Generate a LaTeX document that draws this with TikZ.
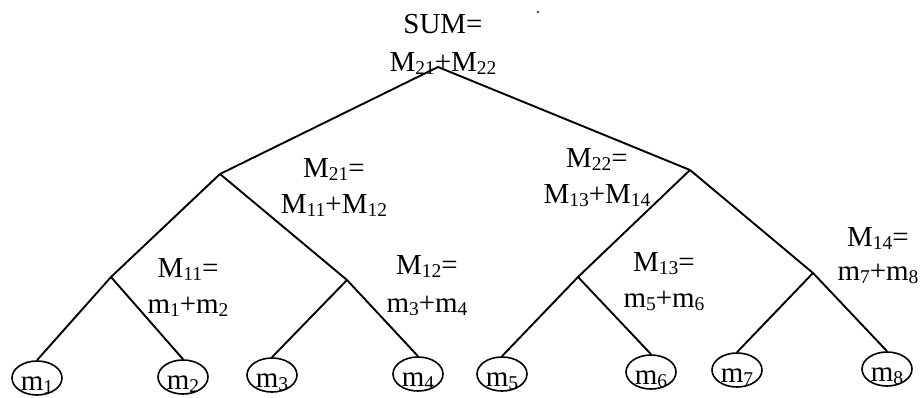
\documentclass[tikz,border=0pt]{standalone}
\usepackage{fontspec}
\setmainfont{Liberation Serif}
\usetikzlibrary{shapes.geometric}
\newcommand\sbs[1]{\raisebox{-3pt}{\fontsize{19.5}{19.5}\selectfont #1}}
\begin{document}
\begin{tikzpicture}[x=1pt,y=-1pt,line width=1.9pt,
  leaf/.style={draw,ellipse,minimum width=50pt,minimum height=34pt,inner sep=0pt,line width=1.6pt,font=\fontsize{29}{36}\selectfont},
  lbl/.style={align=center,font=\fontsize{29}{36}\selectfont,inner sep=0pt,anchor=base}]
\useasboundingbox (0,0) rectangle (924,397);
% junctions
\coordinate (r) at (438,67);
\coordinate (a) at (220,174);
\coordinate (b) at (690,170);
\coordinate (c) at (111,277);
\coordinate (d) at (347,280);
\coordinate (e) at (578,277);
\coordinate (f) at (813,273);
% leaves
\node[leaf] (m1) at (37,378) {\smash{\raisebox{-12pt}{m\sbs{1}}}};
\node[leaf] (m2) at (183,377) {\smash{\raisebox{-12pt}{m\sbs{2}}}};
\node[leaf] (m3) at (272,375) {\smash{\raisebox{-12pt}{m\sbs{3}}}};
\node[leaf] (m4) at (418,374) {\smash{\raisebox{-12pt}{m\sbs{4}}}};
\node[leaf] (m5) at (502,374) {\smash{\raisebox{-12pt}{m\sbs{5}}}};
\node[leaf] (m6) at (651,372) {\smash{\raisebox{-12pt}{m\sbs{6}}}};
\node[leaf] (m7) at (737,370) {\smash{\raisebox{-12pt}{m\sbs{7}}}};
\node[leaf] (m8) at (887,369) {\smash{\raisebox{-12pt}{m\sbs{8}}}};
% edges
\draw (a) -- (r) -- (b);
\draw (a) -- (c) -- (m1.north);
\draw (c) -- (m2.north);
\draw (a) -- (d) -- (m4.north);
\draw (d) -- (m3.north);
\draw (b) -- (e) -- (m5.north);
\draw (e) -- (m6.north);
\draw (b) -- (f) -- (m8.north);
\draw (f) -- (m7.north);
% labels (anchor base = baseline of last line)
\node[lbl] (lsum) at (443,71) {SUM=\\[2pt]M\sbs{21}+M\sbs{22}};
\node[lbl] (l21) at (334,213) {M\sbs{21}=\\M\sbs{11}+M\sbs{12}};
\node[lbl] (l22) at (597,203) {M\sbs{22}=\\M\sbs{13}+M\sbs{14}};
\node[lbl] (l11) at (188,313) {M\sbs{11}=\\m\sbs{1}+m\sbs{2}};
\node[lbl] (l12) at (427,312) {M\sbs{12}=\\[2pt]m\sbs{3}+m\sbs{4}};
\node[lbl] (l13) at (664,307) {M\sbs{13}=\\m\sbs{5}+m\sbs{6}};
\node[lbl] (l14) at (878,280) {M\sbs{14}=\\[-2pt]m\sbs{7}+m\sbs{8}};
\fill (538,12) circle (1.2pt);
\end{tikzpicture}
\end{document}
